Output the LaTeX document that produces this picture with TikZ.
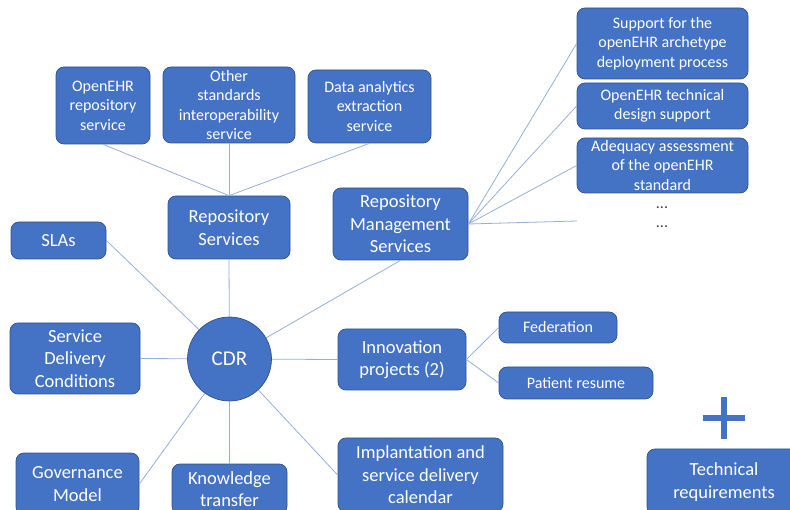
\documentclass[tikz,border=0pt]{standalone}
\usepackage{fontspec}
\setmainfont{Carlito}
\usetikzlibrary{positioning}
\definecolor{boxblue}{RGB}{68,114,196}
\definecolor{boxline}{RGB}{47,82,143}
\definecolor{linkblue}{RGB}{150,174,218}
\definecolor{dotgray}{RGB}{64,64,64}

\begin{document}
\begin{tikzpicture}[x=1pt,y=-1pt,
		box/.style={align=center, draw=boxline, fill=boxblue, text=white, rounded corners=8pt, inner sep=2pt, line width=0.7pt},
		bigtext/.style={font=\fontsize{18.5}{22.5}\selectfont},
		smalltext/.style={font=\fontsize{16}{19.5}\selectfont},
		link/.style={draw=linkblue, line width=0.8pt}]
			\useasboundingbox (0,0) rectangle (790,510);
			\clip (0,0) rectangle (790,510);
			% centre
			\node[align=center, draw=boxline, fill=boxblue, text=white, circle, line width=0.7pt, minimum size=84pt, font=\fontsize{21}{25}\selectfont] at (229.5, 359) (cdr) {CDR};
			% upper branch
			\node[box, bigtext, minimum width=122pt, minimum height=63pt] at (229, 227.5) (repserv) {Repository\\Services};
			\node[box, smalltext, minimum width=94pt, minimum height=77pt] at (103, 105.5) (ehr) {OpenEHR\\repository\\service};
			\node[box, smalltext, minimum width=132pt, minimum height=76pt, inner ysep=-6pt] at (229, 105) (other) {Other\\standards\\interoperability\\service};
			\node[box, smalltext, minimum width=123pt, minimum height=73pt] at (369.5, 106.5) (analytics) {Data analytics\\extraction\\service};
			\node[box, bigtext, minimum width=135pt, minimum height=72pt] at (400.5, 224) (repmgmt) {Repository\\Management\\Services};
			\node[box, smalltext, minimum width=171pt, minimum height=71pt] at (662.5, 43.5) (support) {Support for the\\openEHR archetype\\deployment process};
			\node[box, smalltext, minimum width=171pt, minimum height=46pt] at (662.5, 106) (design) {OpenEHR technical\\design support};
			\node[box, smalltext, minimum width=171pt, minimum height=55pt, inner ysep=-3pt] at (662.5, 165.5) (adequacy) {Adequacy assessment\\of the openEHR\\standard};
			\node[align=center, text=dotgray, smalltext] at (662, 217) (dots) {...\\...};
			\coordinate (more) at (577, 221);
			% left side
			\node[box, bigtext, minimum width=95pt, minimum height=37pt] at (58.5, 240.5) (slas) {SLAs};
			\node[box, bigtext, minimum width=130pt, minimum height=71pt] at (75, 358.5) (sdc) {Service\\Delivery\\Conditions};
			\node[box, bigtext, minimum width=123pt, minimum height=62pt] at (77.5, 484) (gov) {Governance\\Model};
			\node[box, bigtext, minimum width=115pt, minimum height=50pt] at (229.5, 489) (know) {Knowledge\\transfer};
			% right side
			\node[box, bigtext, minimum width=128pt, minimum height=61pt] at (402, 359.5) (innov) {Innovation\\projects (2)};
			\node[box, smalltext, minimum width=118pt, minimum height=31pt] at (558, 327.5) (fed) {Federation};
			\node[box, smalltext, minimum width=154pt, minimum height=32pt] at (576, 383) (patient) {Patient resume};
			\node[box, bigtext, minimum width=165pt, minimum height=74pt] at (420.5, 475) (impl) {Implantation and\\service delivery\\calendar};
			\node[box, bigtext, minimum width=154pt, minimum height=66pt] at (724, 482) (tech) {Technical\\requirements};
			\draw[draw=boxblue, line width=5.5pt] (703, 418) -- (745, 418) (724, 397) -- (724, 439);
			% connectors
			\draw[link] (repserv.north) -- (ehr.south);
			\draw[link] (repserv.north) -- (other.south);
			\draw[link] (repserv.north) -- (analytics.south);
			\draw[link] (repmgmt.east) -- (support.west);
			\draw[link] (repmgmt.east) -- (design.west);
			\draw[link] (repmgmt.east) -- (adequacy.west);
			\draw[link] (repmgmt.east) -- (more);
			\draw[link] (cdr) -- (repserv.south);
			\draw[link] (cdr) -- (repmgmt.south);
			\draw[link] (cdr) -- (slas.east);
			\draw[link] (cdr) -- (sdc.east);
			\draw[link] (cdr) -- (gov.east);
			\draw[link] (cdr) -- (know.north);
			\draw[link] (cdr) -- (innov.west);
			\draw[link] (cdr) -- (impl.west);
			\draw[link] (innov.east) -- (fed.west);
			\draw[link] (innov.east) -- (patient.west);
		\end{tikzpicture}
\end{document}
